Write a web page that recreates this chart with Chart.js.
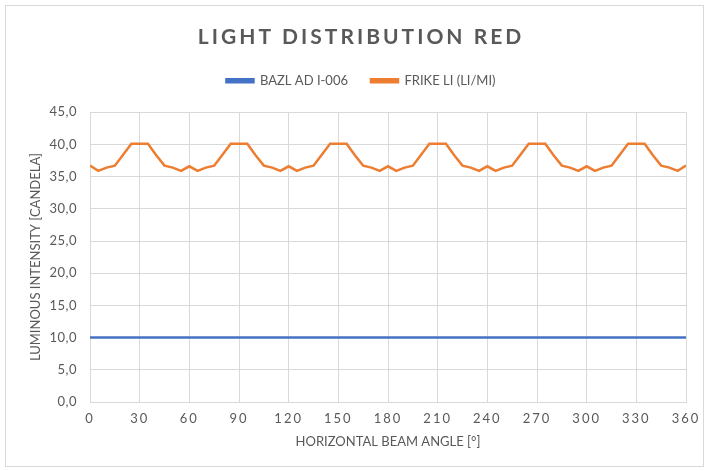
<!DOCTYPE html>
<html>
<head>
<meta charset="utf-8">
<script src="https://cdn.jsdelivr.net/npm/chart.js@4.4.1/dist/chart.umd.min.js"></script>
<style>
  html, body { margin: 0; padding: 0; background: #ffffff; }
  #wrap { position: relative; width: 709px; height: 471px; }
</style>
</head>
<body>
<div id="wrap"><canvas id="lightChart"></canvas></div>
<script>
// horizontal beam angle [deg]
const angles = [
  0, 5, 10, 15, 20, 25, 30, 35, 40, 45, 50, 55,
  60, 65, 70, 75, 80, 85, 90, 95, 100, 105, 110, 115,
  120, 125, 130, 135, 140, 145, 150, 155, 160, 165, 170, 175,
  180, 185, 190, 195, 200, 205, 210, 215, 220, 225, 230, 235,
  240, 245, 250, 255, 260, 265, 270, 275, 280, 285, 290, 295,
  300, 305, 310, 315, 320, 325, 330, 335, 340, 345, 350, 355,
  360
];

// BAZL AD I-006 requirement [cd]
const bazlValues = [
  10, 10, 10, 10, 10, 10, 10, 10, 10, 10, 10, 10,
  10, 10, 10, 10, 10, 10, 10, 10, 10, 10, 10, 10,
  10, 10, 10, 10, 10, 10, 10, 10, 10, 10, 10, 10,
  10, 10, 10, 10, 10, 10, 10, 10, 10, 10, 10, 10,
  10, 10, 10, 10, 10, 10, 10, 10, 10, 10, 10, 10,
  10, 10, 10, 10, 10, 10, 10, 10, 10, 10, 10, 10,
  10
];

// FRIKE LI (LI/MI) measured [cd]
const frikeValues = [
  36.7, 35.9, 36.4, 36.7, 38.4, 40.1, 40.1, 40.1, 38.3, 36.7, 36.4, 35.9,
  36.6, 35.9, 36.4, 36.7, 38.4, 40.1, 40.1, 40.1, 38.3, 36.7, 36.4, 35.9,
  36.6, 35.9, 36.4, 36.7, 38.4, 40.1, 40.1, 40.1, 38.3, 36.7, 36.4, 35.9,
  36.6, 35.9, 36.4, 36.7, 38.4, 40.1, 40.1, 40.1, 38.3, 36.7, 36.4, 35.9,
  36.6, 35.9, 36.4, 36.7, 38.4, 40.1, 40.1, 40.1, 38.3, 36.7, 36.4, 35.9,
  36.6, 35.9, 36.4, 36.7, 38.4, 40.1, 40.1, 40.1, 38.3, 36.7, 36.4, 35.9,
  36.7
];

const xTicks = [0, 30, 60, 90, 120, 150, 180, 210, 240, 270, 300, 330, 360];
const yTicks = [0, 5, 10, 15, 20, 25, 30, 35, 40, 45];

const TEXT = '#595959';
const GRID = '#d9d9d9';
const FONT = 'Lato, "Open Sans", sans-serif';

const toPoints = (values) => angles.map((a, i) => ({ x: a, y: values[i] }));

// letter spacing for a single draw call of a box
function spaced(obj, fn, ls) {
  if (!obj || obj['_spaced_' + fn]) return;
  const orig = obj[fn];
  obj[fn] = function (...args) {
    const c = this.ctx;
    c.save();
    c.letterSpacing = ls;
    orig.apply(this, args);
    c.restore();
  };
  obj['_spaced_' + fn] = true;
}

const letterSpacing = {
  id: 'letterSpacing',
  afterLayout(chart) {
    spaced(chart.titleBlock, 'draw', '3px');
    spaced(chart.scales.x, 'drawLabels', '2px');
    spaced(chart.scales.y, 'drawLabels', '0.5px');
  }
};

// empty box between legend and plot
const legendGap = {
  id: 'legendGap',
  beforeInit(chart) {
    Chart.layouts.addBox(chart, {
      position: 'top',
      weight: 10,
      fullSize: true,
      options: {},
      left: 0, top: 0, right: 0, bottom: 0, width: 0, height: 0,
      isHorizontal() { return true; },
      update(maxWidth) { this.width = maxWidth; this.height = 15; },
      draw() {}
    });
  }
};

// outer card border
const cardBorder = {
  id: 'cardBorder',
  beforeDraw(chart) {
    const c = chart.ctx;
    c.save();
    c.strokeStyle = GRID;
    c.lineWidth = 1;
    c.strokeRect(5.5, 5.5, chart.width - 11, chart.height - 10);
    c.restore();
  }
};

new Chart(document.getElementById('lightChart'), {
  type: 'line',
  data: {
    datasets: [{
      label: 'BAZL AD I-006',
      data: toPoints(bazlValues),
      borderColor: '#4472C4',
      backgroundColor: '#4472C4',
      borderWidth: 2.5,
      pointRadius: 0,
      tension: 0
    }, {
      label: 'FRIKE LI (LI/MI)',
      data: toPoints(frikeValues),
      borderColor: '#ED7D31',
      backgroundColor: '#ED7D31',
      borderWidth: 2.5,
      pointRadius: 0,
      tension: 0
    }]
  },
  options: {
    responsive: true,
    maintainAspectRatio: false,
    animation: false,
    layout: {
      padding: { top: 6, left: 36, right: 23, bottom: 18 }
    },
    plugins: {
      title: {
        display: true,
        text: 'LIGHT DISTRIBUTION RED',
        color: TEXT,
        font: { family: FONT, size: 21, weight: 'bold' },
        padding: { top: 19, bottom: 1 }
      },
      legend: {
        position: 'top',
        labels: {
          color: TEXT,
          font: { family: FONT, size: 13 },
          boxWidth: 27,
          boxHeight: 3,
          padding: 23
        }
      },
      tooltip: { enabled: false }
    },
    scales: {
      x: {
        type: 'linear',
        min: 0,
        max: 360,
        afterFit: (scale) => { scale.height = 51; },
        afterBuildTicks: (scale) => { scale.ticks = xTicks.map(v => ({ value: v })); },
        grid: { color: GRID, drawTicks: false },
        border: { color: GRID },
        ticks: {
          color: TEXT,
          padding: 9,
          maxRotation: 0,
          font: { family: FONT, size: 13 }
        },
        title: {
          display: true,
          text: 'HORIZONTAL BEAM ANGLE [°]',
          color: TEXT,
          font: { family: FONT, size: 13 },
          padding: { top: 4, bottom: 3 }
        }
      },
      y: {
        min: 0,
        max: 45,
        afterFit: (scale) => { scale.width = 54; },
        afterBuildTicks: (scale) => { scale.ticks = yTicks.map(v => ({ value: v })); },
        grid: { color: GRID, drawTicks: false },
        border: { color: GRID },
        ticks: {
          color: TEXT,
          padding: 13,
          font: { family: FONT, size: 13 },
          callback: (value) => value.toFixed(1).replace('.', ',')
        },
        title: {
          display: true,
          text: 'LUMINOUS INTENSITY [CANDELA]',
          color: TEXT,
          font: { family: FONT, size: 13 },
          padding: { top: -7.5, bottom: 0 }
        }
      }
    }
  },
  plugins: [letterSpacing, legendGap, cardBorder]
});
</script>
</body>
</html>
